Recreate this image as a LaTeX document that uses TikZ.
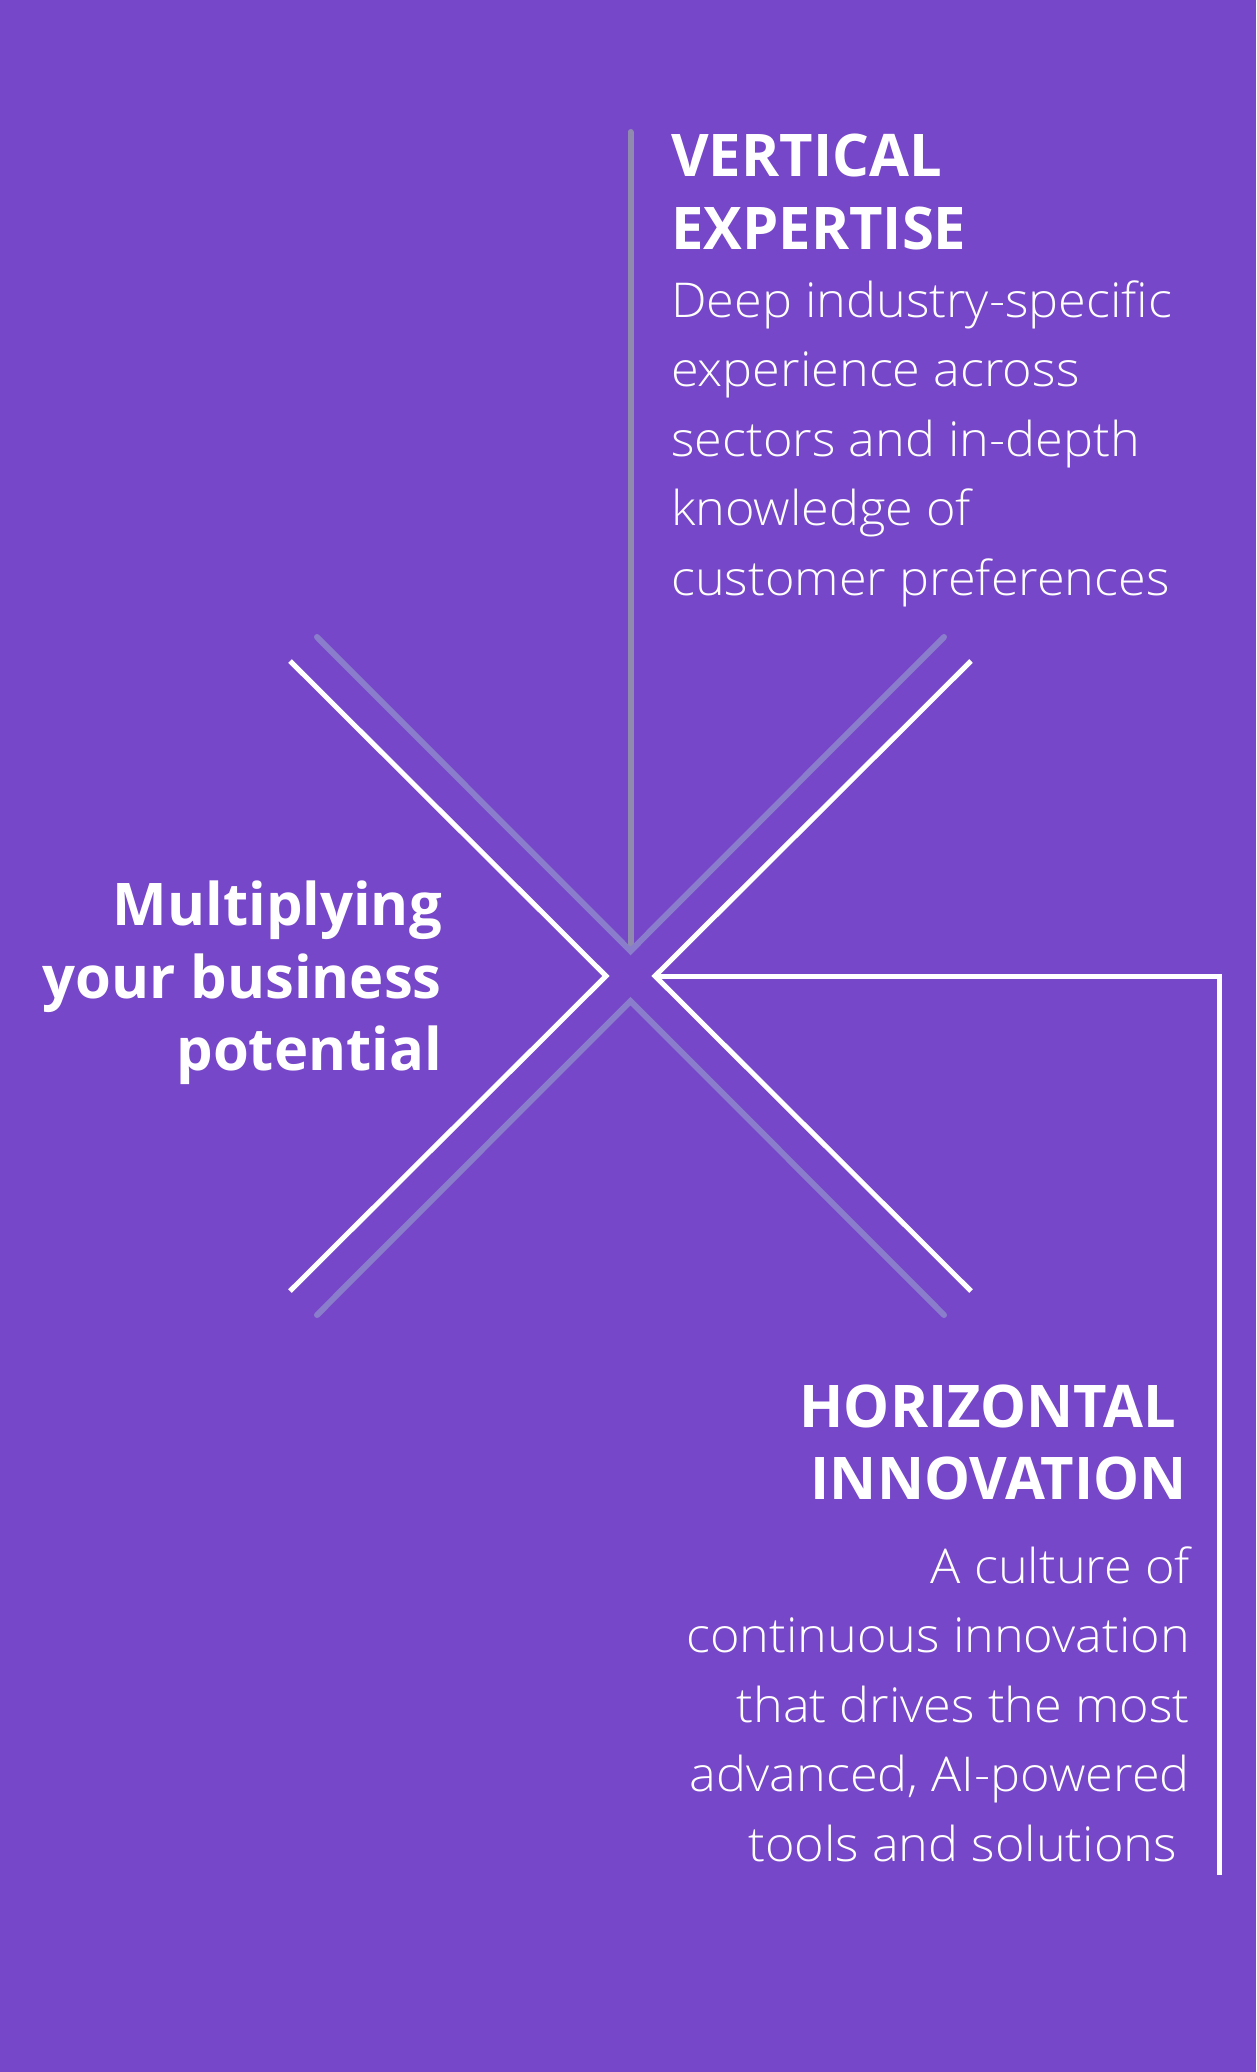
\documentclass[tikz,border=0pt]{standalone}
\usepackage{fontspec}
\setmainfont{Open Sans}[UprightFont=* Light, BoldFont=* Bold, UprightFeatures={FakeStretch=1.05}, BoldFeatures={FakeStretch=0.985}]
\definecolor{bg}{HTML}{7747C9}
\definecolor{glav}{HTML}{8A7DCB}
\definecolor{ggray}{HTML}{908AAE}
\newcommand{\fl}{\rule{0pt}{50pt}}
\begin{document}
\begin{tikzpicture}[x=1pt,y=-1pt,
  wline/.style={draw=white,line width=5pt,line join=miter},
  gline/.style={draw=glav,line width=6pt,line cap=round},
  vline/.style={draw=ggray,line width=6pt,line cap=round},
  head/.style={text=white,inner sep=0pt,font=\fontsize{58.8}{72.3}\selectfont\bfseries},
  body/.style={text=white,inner sep=0pt,font=\fontsize{48}{69.5}\selectfont}]
\useasboundingbox[fill=bg] (0,0) rectangle (1256,2072);
% grey guide lines
\coordinate (vt) at (630.5,132);
\coordinate (vb) at (630.5,945);
\draw[vline] (vt) -- (vb);
\coordinate (gul) at (317,637);
\coordinate (gur) at (944,637);
\coordinate (gta) at (630.5,951);
\coordinate (gll) at (317,1315);
\coordinate (glr) at (944,1315);
\coordinate (gba) at (630.5,1001);
\draw[gline] (gul) -- (gta) -- (gur);
\draw[gline] (gll) -- (gba) -- (glr);
% white chevrons
\coordinate (wul) at (290,661);
\coordinate (wlt) at (606,976);
\coordinate (wll) at (290,1291);
\coordinate (wur) at (971,661);
\coordinate (wrt) at (655,976);
\coordinate (wlr) at (971,1291);
\coordinate (hc) at (1219,976);
\coordinate (he) at (1219,1875);
\draw[wline] (wul) -- (wlt) -- (wll);
\draw[wline] (wur) -- (wrt) -- (wlr);
\draw[wline] (wrt) -- (hc) -- (he);
% texts
\node[head,anchor=north west,align=left] (vtitle) at (671,126.5) {\fl VERTICAL\\EXPERTISE};
\node[body,anchor=north west,align=left] (vdesc) at (671,267) {\fl Deep industry-specific\\experience across\\sectors and in-depth\\knowledge of\\customer preferences};
\node[head,anchor=north east,align=right] (mtitle) at (442,875.6) {\fl Multiplying\\your business\\potential};
\node[head,anchor=north east,align=right] (htitle) at (1187,1377) {\fl HORIZONTAL\hspace*{11pt}\\INNOVATION};
\node[body,anchor=north east,align=right] (hdesc) at (1190,1533) {\fl A culture of\\continuous innovation\\that drives the most\\advanced, AI-powered\\tools and solutions\hspace*{13pt}};
\end{tikzpicture}
\end{document}
